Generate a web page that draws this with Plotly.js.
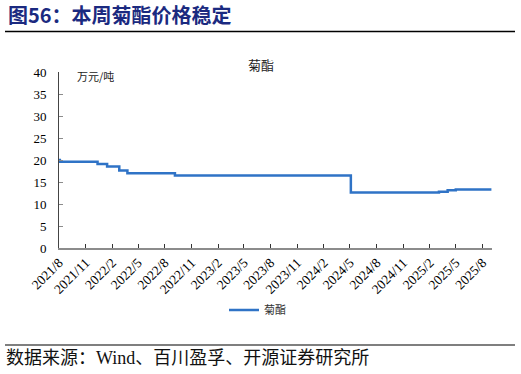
<!DOCTYPE html>
<html>
<head>
<meta charset="utf-8">
<script src="https://cdn.plot.ly/plotly-3.0.1.min.js"></script>
<style>
html,body{margin:0;padding:0;background:#fff;}
#wrap{position:relative;width:521px;height:374px;overflow:hidden;}
#chart{position:absolute;left:0;top:0;width:521px;height:374px;}
</style>
</head>
<body>
<div id="wrap"><div id="chart"></div></div>
<script>
// Step change dates and prices (万元/吨)
var dates = ["2021-08-01","2021-08-04","2021-12-12","2022-01-14","2022-02-25","2022-03-25","2022-09-05","2024-05-04","2025-03-04","2025-04-03","2025-05-01","2025-09-01"];
var prices = [20.0,19.6,19.1,18.5,17.6,17.0,16.5,12.6,12.8,13.1,13.3,13.3];
var tickDates = ["2021-08-01","2021-11-01","2022-02-01","2022-05-01","2022-08-01","2022-11-01","2023-02-01","2023-05-01","2023-08-01","2023-11-01","2024-02-01","2024-05-01","2024-08-01","2024-11-01","2025-02-01","2025-05-01","2025-08-01"];
var tickLabels = ["2021/8","2021/11","2022/2","2022/5","2022/8","2022/11","2023/2","2023/5","2023/8","2023/11","2024/2","2024/5","2024/8","2024/11","2025/2","2025/5","2025/8"];
var yTicks = [0,5,10,15,20,25,30,35,40];
var seriesName = "菊酯";

var serif = "'Liberation Serif','Times New Roman','Noto Sans CJK SC',serif";
var sans = "'Noto Sans CJK SC','Noto Sans',sans-serif";

var trace = {
  x: dates, y: prices, type: "scatter", mode: "lines", name: seriesName,
  line: {shape: "hv", color: "#2f73c6", width: 2.5}
};

var plotH = 374 - 72 - 126, plotW = 521 - 59 - 29;
function py(pix){ return (374 - 126 - pix) / plotH; }
function px(pix){ return (pix - 59) / plotW; }

var layout = {
  width: 521, height: 374,
  margin: {l: 59, r: 29, t: 72, b: 126},
  paper_bgcolor: "#fff", plot_bgcolor: "#fff",
  showlegend: true,
  legend: {orientation: "h", x: px(224), xanchor: "left", y: py(310), yanchor: "middle",
           font: {family: sans, size: 11, color: "#333"}},
  xaxis: {
    type: "date", range: ["2021-08-01", "2025-09-03"],
    tickvals: tickDates, ticktext: tickLabels, tickangle: -45,
    ticks: "inside", ticklen: 4, tickcolor: "#333", tickwidth: 1,
    showline: true, linecolor: "#8c8c8c", linewidth: 1.5,
    showgrid: false, zeroline: false,
    tickfont: {family: serif, size: 13.5, color: "#000"}
  },
  yaxis: {
    range: [0, 40], tickvals: yTicks,
    ticks: "inside", ticklen: 4, tickcolor: "#8c8c8c", tickwidth: 1,
    ticklabelstandoff: 9,
    showline: true, linecolor: "#444", linewidth: 1,
    showgrid: false, zeroline: false,
    tickfont: {family: serif, size: 13, color: "#000"}
  },
  annotations: [
    {text: "菊酯", xref: "paper", yref: "paper", x: px(261), y: py(64), xanchor: "center", yanchor: "middle",
     showarrow: false, font: {family: sans, size: 13, color: "#222"}},
    {text: "万元/吨", xref: "paper", yref: "paper", x: px(75), y: py(76), xanchor: "left", yanchor: "middle",
     showarrow: false, font: {family: sans, size: 11, color: "#222"}},
    {text: "<b>图56：本周菊酯价格稳定</b>", xref: "paper", yref: "paper", x: px(6), xanchor: "left",
     y: py(15), yanchor: "middle", showarrow: false,
     font: {family: sans, size: 20, color: "#1b2a80"}},
    {text: "数据来源：Wind、百川盈孚、开源证券研究所", xref: "paper", yref: "paper", x: px(4), xanchor: "left",
     y: py(358), yanchor: "middle", showarrow: false,
     font: {family: serif, size: 18, color: "#111"}}
  ],
  shapes: [
    {type: "line", xref: "paper", yref: "paper", x0: px(5), x1: px(515), y0: py(31.5), y1: py(31.5), line: {color: "#000", width: 1.5}},
    {type: "line", xref: "paper", yref: "paper", x0: px(5), x1: px(515), y0: py(345), y1: py(345), line: {color: "#000", width: 1.2}}
  ]
};

Plotly.newPlot("chart", [trace], layout, {displayModeBar: false, staticPlot: true});
</script>
</body>
</html>
